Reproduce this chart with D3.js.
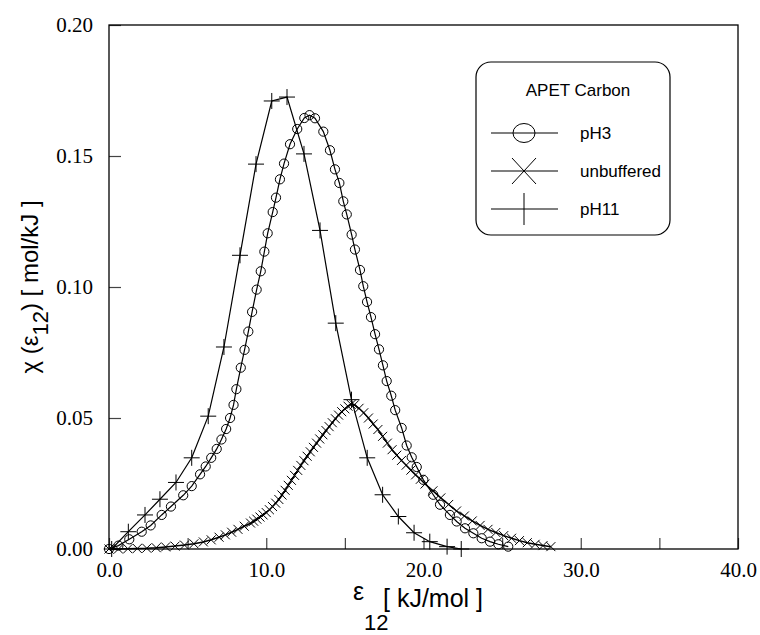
<!DOCTYPE html>
<html><head><meta charset="utf-8">
<script src="https://cdn.jsdelivr.net/npm/d3@7"></script>
<style>body{margin:0;background:#fff}svg{display:block}</style>
</head><body>
<svg id="c" width="760" height="635"></svg>
<script>
// ---- data ----
const seriesNames = ["pH3", "unbuffered", "pH11"];
const legendTitle = "APET Carbon";
const xTickValues = [0, 5, 10, 15, 20, 25, 30, 35, 40];
const xTickLabels = ["0.0", "", "10.0", "", "20.0", "", "30.0", "", "40.0"];
const yTickValues = [0, 0.05, 0.10, 0.15, 0.20];
const yTickLabels = ["0.00", "0.05", "0.10", "0.15", "0.20"];

const pH3X = [0.00,0.60,1.29,2.08,2.65,3.35,3.94,4.72,5.26,5.79,6.15,6.50,6.85,7.15,7.45,7.70,7.92,8.10,8.38,8.62,8.86,9.10,9.39,9.65,9.88,10.09,10.41,10.62,10.87,11.13,11.51,11.97,12.42,12.75,13.10,13.63,14.05,14.37,14.65,14.90,15.12,15.43,15.64,15.96,16.17,16.41,16.66,16.92,17.17,17.42,17.66,17.95,18.20,18.61,18.93,19.25,19.57,19.99,20.62,21.05,21.68,22.11,22.64,23.17,23.70,24.23,24.76,25.39];
const pH3Y = [0.0000,0.0013,0.0037,0.0066,0.0090,0.0130,0.0162,0.0205,0.0240,0.0285,0.0315,0.0348,0.0382,0.0418,0.0458,0.0500,0.0550,0.0610,0.0692,0.0760,0.0830,0.0905,0.0990,0.1060,0.1135,0.1205,0.1286,0.1341,0.1411,0.1471,0.1545,0.1603,0.1645,0.1656,0.1644,0.1593,0.1522,0.1449,0.1397,0.1327,0.1277,0.1200,0.1143,0.1065,0.1003,0.0943,0.0885,0.0820,0.0762,0.0701,0.0641,0.0585,0.0530,0.0462,0.0395,0.0350,0.0313,0.0264,0.0207,0.0169,0.0130,0.0105,0.0079,0.0060,0.0041,0.0028,0.0018,0.0009];

const unbufX = [0.0,0.6,1.2,1.8,2.4,3.0,3.6,4.2,4.8,5.4,6.0,6.5,7.0,7.4,7.8,8.2,8.6,9.0,9.2,9.4,9.6,9.8,10.0,10.2,10.4,10.6,10.8,11.0,11.2,11.4,11.6,11.8,12.0,12.2,12.4,12.6,12.8,13.0,13.2,13.4,13.6,13.8,14.0,14.2,14.4,14.6,14.8,15.0,15.2,15.4,15.6,15.9,16.2,16.5,16.8,17.1,17.4,17.7,18.0,18.3,18.6,18.9,19.2,19.5,19.8,20.1,20.6,21.1,21.6,22.1,22.6,23.1,23.6,24.1,24.6,25.1,25.6,26.1,26.6,27.1,27.6,28.1];
const unbufY = [0.0000,0.0000,0.0001,0.0002,0.0003,0.0005,0.0008,0.0011,0.0015,0.0020,0.0027,0.0035,0.0045,0.0054,0.0064,0.0075,0.0087,0.0099,0.0106,0.0114,0.0122,0.0130,0.0139,0.0150,0.0162,0.0175,0.0189,0.0206,0.0224,0.0243,0.0262,0.0281,0.0300,0.0319,0.0337,0.0354,0.0371,0.0388,0.0404,0.0420,0.0436,0.0452,0.0467,0.0482,0.0497,0.0511,0.0524,0.0535,0.0545,0.0552,0.0550,0.0537,0.0520,0.0500,0.0477,0.0456,0.0430,0.0404,0.0379,0.0358,0.0338,0.0320,0.0301,0.0283,0.0266,0.0248,0.0222,0.0195,0.0170,0.0145,0.0126,0.0107,0.0090,0.0075,0.0063,0.0051,0.0041,0.0032,0.0024,0.0018,0.0013,0.0009];

const pH11X = [0.17,1.23,2.29,3.24,4.26,5.26,6.31,7.31,8.33,9.35,10.35,11.32,12.40,13.42,14.42,15.42,16.42,17.40,18.40,19.40,20.40,21.50,22.40];
const pH11Y = [0.0000,0.0066,0.0130,0.0190,0.0254,0.0348,0.0507,0.0771,0.1121,0.1469,0.1710,0.1725,0.1508,0.1216,0.0862,0.0570,0.0348,0.0207,0.0124,0.0062,0.0028,0.0009,0.0000];

// ---- layout ----
const svg = d3.select("#c");
const L = 109, R = 738, T = 25, B = 549;
const x = d3.scaleLinear().domain([0, 40]).range([L, R]);
const y = d3.scaleLinear().domain([0, 0.20]).range([B, T]);

const serif = "'Liberation Serif','Times New Roman',serif";
const sans = "'Liberation Sans',Arial,sans-serif";
const legendFont = "'Liberation Sans',Arial,sans-serif";

// axes
const xAxis = d3.axisBottom(x).tickValues(xTickValues).tickSize(-11).tickPadding(13)
  .tickFormat((d, i) => xTickLabels[i]);
const gx = svg.append("g").attr("transform", `translate(0,${B})`).call(xAxis);
const yAxis = d3.axisLeft(y).tickValues(yTickValues).tickSize(-12).tickPadding(16)
  .tickFormat((d, i) => yTickLabels[i]);
const gy = svg.append("g").attr("transform", `translate(${L},0)`).call(yAxis);
[gx, gy].forEach(g => {
  g.select(".domain").remove();
  g.selectAll(".tick line").attr("stroke", "#444").attr("stroke-width", 1.2);
  g.selectAll(".tick text").attr("font-family", serif).attr("font-size", 21).attr("fill", "#000");
});

// frame
svg.append("rect").attr("x", L).attr("y", T).attr("width", R - L).attr("height", B - T)
  .attr("fill", "none").attr("stroke", "#000").attr("stroke-width", 1.3);

// markers
function markerPath(type, s) {
  if (type === "x") return `M${-s},${-s}L${s},${s}M${-s},${s}L${s},${-s}`;
  if (type === "+") return `M${-s},0H${s}M0,${-s}V${s}`;
  return "";
}
const line = d3.line().x(d => x(d[0])).y(d => y(d[1]));
const series = [
  {name: seriesNames[0], xs: pH3X, ys: pH3Y, type: "o"},
  {name: seriesNames[1], xs: unbufX, ys: unbufY, type: "x"},
  {name: seriesNames[2], xs: pH11X, ys: pH11Y, type: "+"}
];
const plot = svg.append("g");
series.forEach(s => {
  const pts = s.xs.map((v, i) => [v, s.ys[i]]);
  plot.append("path").datum(pts).attr("d", line).attr("fill", "none")
    .attr("stroke", "#000").attr("stroke-width", s.type === "x" ? 1.5 : 1.2);
  const g = plot.append("g");
  pts.forEach(p => {
    if (s.type === "o") {
      g.append("circle").attr("cx", x(p[0])).attr("cy", y(p[1])).attr("r", 4.6)
        .attr("fill", "none").attr("stroke", "#000").attr("stroke-width", 1);
    } else {
      g.append("path").attr("transform", `translate(${x(p[0])},${y(p[1])})`)
        .attr("d", markerPath(s.type, s.type === "x" ? 4.5 : 8))
        .attr("fill", "none").attr("stroke", "#000").attr("stroke-width", 1);
    }
  });
});

// axis titles
const xt = svg.append("g").attr("font-family", sans).attr("fill", "#000");
xt.append("text").attr("x", 353).attr("y", 600).attr("font-size", 25).text("ε");
xt.append("text").attr("x", 364).attr("y", 630).attr("font-size", 22).text("12");
xt.append("text").attr("x", 383).attr("y", 607).attr("font-size", 25).text("[ kJ/mol ]");

const yt = svg.append("text").attr("font-family", sans).attr("font-size", 24).attr("fill", "#000")
  .attr("text-anchor", "middle")
  .attr("transform", `translate(38,${(T + B) / 2}) rotate(-90)`);
yt.append("tspan").text("χ (ε");
yt.append("tspan").attr("dy", 10).attr("font-size", 22).text("12");
yt.append("tspan").attr("dy", -10).text(") [ mol/kJ ]");

// legend
const LX = 476, LW = 194;
const lg = svg.append("g");
lg.append("rect").attr("x", LX).attr("y", 62).attr("width", LW).attr("height", 173)
  .attr("rx", 15).attr("fill", "#fff").attr("stroke", "#000").attr("stroke-width", 1.2);
lg.append("text").attr("x", 578).attr("y", 96).attr("text-anchor", "middle")
  .attr("font-family", legendFont).attr("font-size", 17).text(legendTitle);
const rowY = [133, 171, 209];
series.forEach((s, i) => {
  const cy = rowY[i];
  lg.append("line").attr("x1", 491).attr("x2", 558).attr("y1", cy).attr("y2", cy)
    .attr("stroke", "#000").attr("stroke-width", 1.2);
  if (s.type === "o") {
    lg.append("ellipse").attr("cx", 524).attr("cy", cy).attr("rx", 11).attr("ry", 9.5)
      .attr("fill", "none").attr("stroke", "#000").attr("stroke-width", 1);
  } else if (s.type === "x") {
    lg.append("path").attr("transform", `translate(524,${cy})`)
      .attr("d", "M-12,-13L12,13M-12,13L12,-13").attr("fill", "none").attr("stroke", "#000");
  } else {
    lg.append("path").attr("transform", `translate(524,${cy})`)
      .attr("d", "M0,-16V16").attr("fill", "none").attr("stroke", "#000");
  }
  lg.append("text").attr("x", 580).attr("y", cy).attr("dy", "0.36em")
    .attr("font-family", legendFont).attr("font-size", 17).text(s.name);
});
</script>
</body></html>
